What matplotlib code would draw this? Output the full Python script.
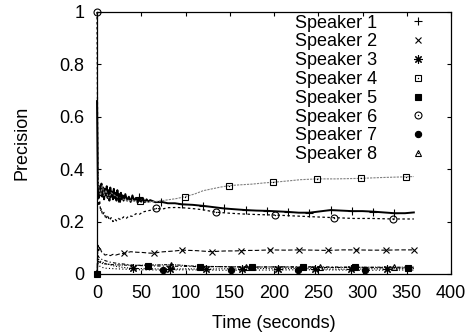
import matplotlib
matplotlib.use("Agg")
import matplotlib.pyplot as plt
from matplotlib.lines import Line2D
from matplotlib.legend_handler import HandlerTuple

plt.rcParams["font.family"] = ["Liberation Sans", "DejaVu Sans"]

speakers = ["Speaker 1", "Speaker 2", "Speaker 3", "Speaker 4",
            "Speaker 5", "Speaker 6", "Speaker 7", "Speaker 8"]

# speaker 1
t1 = [0, 1, 2, 3, 4, 5, 6, 7, 8, 9, 10, 11, 12, 13, 14, 15, 16, 17, 18, 19,
      20, 21, 22, 23, 24, 25, 26, 27, 28, 29, 30, 32, 34, 36, 38, 40, 42, 44,
      46, 48, 50, 52, 54, 56, 58, 60, 66, 72, 80, 88, 96, 108, 120, 132, 144,
      156, 168, 180, 192, 204, 216, 228, 240, 252, 264, 276, 288, 300, 312,
      324, 336, 348, 358]
p1 = [0.66, 0.34, 0.29, 0.335, 0.30, 0.345, 0.295, 0.33, 0.285, 0.325, 0.30,
      0.335, 0.29, 0.32, 0.28, 0.33, 0.295, 0.315, 0.285, 0.325, 0.29, 0.31,
      0.28, 0.32, 0.29, 0.305, 0.275, 0.31, 0.285, 0.30, 0.28, 0.305, 0.28,
      0.295, 0.275, 0.30, 0.28, 0.29, 0.272, 0.292, 0.276, 0.288, 0.274,
      0.285, 0.276, 0.282, 0.274, 0.276, 0.27, 0.27, 0.266, 0.264, 0.26,
      0.255, 0.25, 0.247, 0.244, 0.242, 0.241, 0.239, 0.237, 0.234, 0.234,
      0.239, 0.244, 0.242, 0.24, 0.24, 0.238, 0.235, 0.232, 0.232, 0.235]
m1 = [24, 48, 72, 96, 120, 144, 168, 192, 216, 240, 264, 288, 312, 336]

# speaker 2
t2 = [0, 1, 2, 3, 5, 7, 9, 12, 15, 18, 21, 25, 31, 38, 45, 52, 58, 64, 72,
      80, 88, 96, 105, 113, 121, 130, 138, 146, 155, 163, 172, 180, 188, 196,
      212, 228, 245, 261, 277, 293, 310, 326, 342, 358]
p2 = [0.0, 0.11, 0.09, 0.105, 0.085, 0.08, 0.072, 0.075, 0.07, 0.075, 0.072,
      0.076, 0.079, 0.085, 0.083, 0.082, 0.08, 0.079, 0.084, 0.086, 0.088,
      0.091, 0.09, 0.089, 0.087, 0.085, 0.087, 0.088, 0.088, 0.089, 0.09,
      0.09, 0.091, 0.092, 0.091, 0.092, 0.091, 0.09, 0.092, 0.092, 0.091,
      0.091, 0.092, 0.092]
m2 = [31, 64, 96, 130, 163, 196, 228, 261, 293, 326, 358]

# speaker 3
t3 = [0, 1, 3, 6, 10, 15, 20, 30, 41, 60, 82, 100, 123, 140, 164, 185, 205,
      225, 246, 265, 287, 310, 328, 345, 358]
p3 = [0.0, 0.06, 0.05, 0.045, 0.04, 0.035, 0.03, 0.025, 0.021, 0.02, 0.018,
      0.02, 0.018, 0.02, 0.019, 0.021, 0.02, 0.021, 0.02, 0.019, 0.018, 0.02,
      0.019, 0.02, 0.021]
m3 = [41, 82, 123, 164, 205, 246, 287, 328]

# speaker 4
t4 = [0, 2, 4, 6, 8, 10, 13, 16, 20, 25, 30, 35, 40, 49, 60, 70, 80, 90, 99,
      110, 120, 130, 140, 149, 160, 175, 190, 199, 215, 230, 249, 270, 298,
      320, 349, 358]
p4 = [0.5, 0.33, 0.30, 0.34, 0.30, 0.32, 0.29, 0.31, 0.30, 0.29, 0.285, 0.28,
      0.28, 0.277, 0.275, 0.278, 0.283, 0.288, 0.295, 0.305, 0.318, 0.325,
      0.332, 0.337, 0.34, 0.343, 0.348, 0.35, 0.355, 0.36, 0.363, 0.363,
      0.365, 0.368, 0.371, 0.372]
m4 = [49, 99, 149, 199, 249, 298, 349]

# speaker 5
t5 = [0, 1, 3, 6, 10, 15, 20, 30, 40, 50, 58, 80, 100, 116, 140, 175, 200,
      233, 260, 292, 320, 351, 358]
p5 = [0.0, 0.07, 0.06, 0.055, 0.05, 0.045, 0.042, 0.038, 0.034, 0.032, 0.031,
      0.03, 0.029, 0.028, 0.028, 0.026, 0.027, 0.028, 0.027, 0.026, 0.024,
      0.023, 0.023]
m5 = [0, 58, 116, 175, 233, 292, 351]

# speaker 6
t6 = [0, 1, 2, 3, 4, 5, 6, 8, 10, 12, 14, 16, 18, 20, 22, 24, 27, 30, 33, 36,
      40, 44, 48, 52, 56, 60, 67, 74, 80, 90, 100, 110, 120, 134, 150, 165,
      180, 201, 220, 240, 268, 290, 310, 335, 358]
p6 = [1.0, 0.30, 0.26, 0.28, 0.24, 0.25, 0.225, 0.235, 0.21, 0.225, 0.205,
      0.215, 0.2, 0.21, 0.203, 0.212, 0.207, 0.218, 0.212, 0.222, 0.22, 0.23,
      0.228, 0.237, 0.24, 0.243, 0.25, 0.248, 0.253, 0.254, 0.252, 0.249,
      0.245, 0.236, 0.232, 0.229, 0.227, 0.225, 0.222, 0.219, 0.215, 0.212,
      0.212, 0.21, 0.21]
m6 = [0, 67, 134, 201, 268, 335]

# speaker 7
t7 = [0, 1, 3, 6, 10, 20, 35, 50, 75, 100, 125, 151, 180, 200, 227, 250, 280,
      303, 330, 358]
p7 = [0.0, 0.04, 0.03, 0.025, 0.022, 0.02, 0.018, 0.016, 0.015, 0.016, 0.015,
      0.014, 0.015, 0.015, 0.016, 0.016, 0.015, 0.014, 0.015, 0.015]
m7 = [75, 151, 227, 303]

# speaker 8
t8 = [0, 1, 3, 6, 10, 20, 40, 60, 84, 110, 140, 168, 200, 225, 252, 280, 310,
      336, 358]
p8 = [0.0, 0.05, 0.045, 0.04, 0.038, 0.035, 0.033, 0.034, 0.036, 0.03, 0.028,
      0.027, 0.027, 0.026, 0.025, 0.025, 0.026, 0.026, 0.026]
m8 = [84, 168, 252, 336]

series = [(t1, p1, m1), (t2, p2, m2), (t3, p3, m3), (t4, p4, m4),
          (t5, p5, m5), (t6, p6, m6), (t7, p7, m7), (t8, p8, m8)]

# line look and point type for each speaker
line_color = ["black", "black", "black", "#808080",
              "black", "black", "black", "black"]
line_width = [1.4, 0.8, 0.8, 0.8, 0.8, 0.9, 0.8, 0.8]
dashes = [(), (4, 2), (1, 1.5), (2, 1), (3, 2, 1, 2), (2, 2), (1, 2), (3, 1, 1, 1)]
markers = ["+", "x", (8, 2, 0), "s", "s", "o", "o", "^"]
filled = [False, False, False, False, True, False, True, False]
center_dot = [False, False, False, True, False, True, False, True]
msize = [6, 5, 6, 5, 5, 5, 4.5, 5]

fig = plt.figure(figsize=(4.77, 3.35), dpi=100)
ax = fig.add_axes([0.2034, 0.1821, 0.7421, 0.7821])

handles = []
for i, (t, p, m) in enumerate(series):
    if dashes[i]:
        ax.plot(t, p, color=line_color[i], lw=line_width[i], linestyle="--",
                dashes=dashes[i], clip_on=False)
    else:
        ax.plot(t, p, color=line_color[i], lw=line_width[i], clip_on=False)
    every = [k for k, tv in enumerate(t) if tv in m]
    face = "black" if filled[i] else "none"
    ax.plot(t, p, linestyle="none", marker=markers[i], markevery=every,
            ms=msize[i], mfc=face, mec="black", mew=0.8, clip_on=False,
            zorder=3)
    h = Line2D([], [], linestyle="none", marker=markers[i], ms=msize[i],
               mfc=face, mec="black", mew=0.8)
    if center_dot[i]:
        ax.plot(t, p, linestyle="none", marker="o", markevery=every, ms=1,
                mfc="black", mec="black", mew=0, clip_on=False, zorder=3)
        dot = Line2D([], [], linestyle="none", marker="o", ms=1,
                     mfc="black", mec="black", mew=0)
        handles.append((h, dot))
    else:
        handles.append(h)

ax.set_xlim(0, 400)
ax.set_ylim(0, 1)
ax.set_xticks(range(0, 401, 50))
ax.set_yticks([0, 0.2, 0.4, 0.6, 0.8, 1])
ax.set_yticklabels(["0", "0.2", "0.4", "0.6", "0.8", "1"])
ax.tick_params(direction="in", length=3, width=0.8, top=True, right=True,
               labelsize=13)
ax.tick_params(axis="x", pad=8)
ax.tick_params(axis="y", pad=9)
for s in ax.spines.values():
    s.set_linewidth(0.9)

ax.set_xlabel("Time (seconds)", fontsize=13, labelpad=9)
ax.set_ylabel("Precision", fontsize=13, labelpad=21)

ax.legend(handles, speakers, handler_map={tuple: HandlerTuple(ndivide=1, pad=0)},
          loc="upper left", bbox_to_anchor=(0.559, 0.99), frameon=False,
          fontsize=13, markerfirst=False, handlelength=1.0,
          handletextpad=1.75, labelspacing=0.1, borderpad=0, borderaxespad=0)

fig.savefig("out.png", dpi=100)
